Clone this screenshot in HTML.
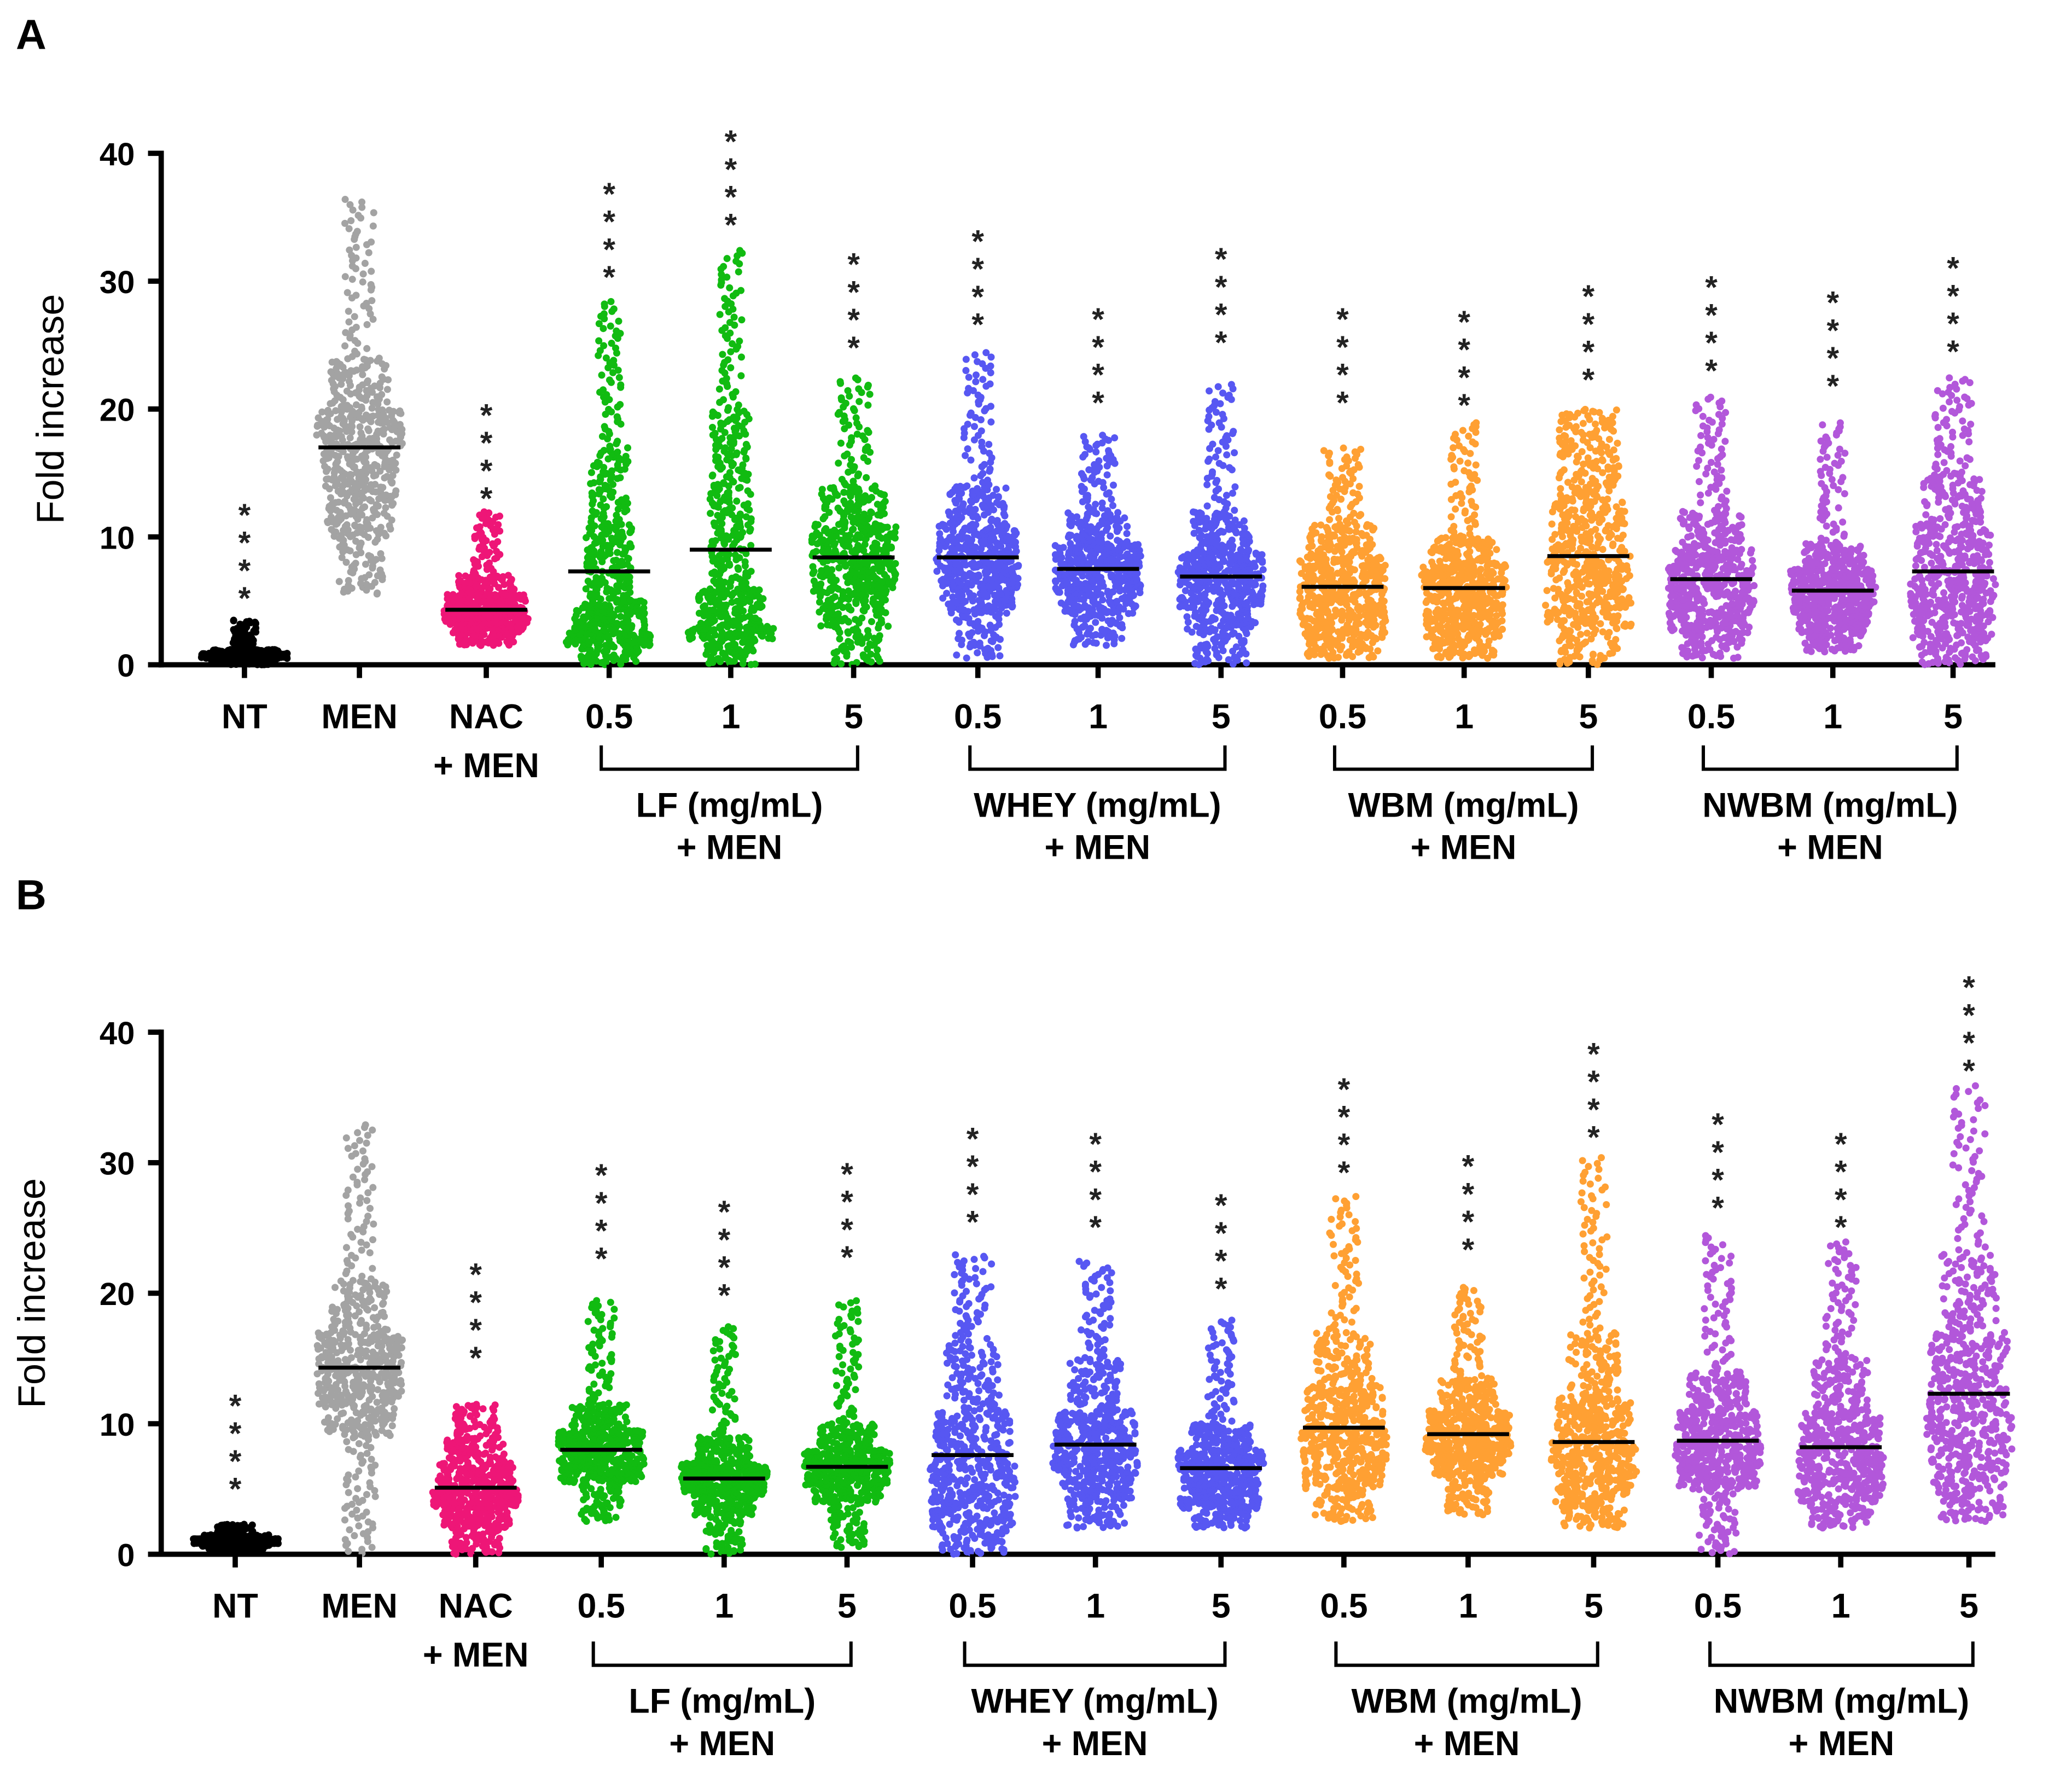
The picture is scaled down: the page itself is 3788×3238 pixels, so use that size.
<!DOCTYPE html>
<html><head><meta charset="utf-8"><style>
html,body{margin:0;padding:0;background:#fff}
svg{display:block}
text{font-family:"Liberation Sans",Arial,sans-serif}
</style></head><body>
<svg id="chart" width="3788" height="3238" viewBox="0 0 1568 1340" preserveAspectRatio="none" xmlns="http://www.w3.org/2000/svg">
<rect width="1568" height="1340" fill="#fff"/>
<g id="panelA"></g>
<g id="panelB"></g>
</svg>
<script>
const groupColors = ["#000000","#a3a3a3","#ee1677","#11bb11","#11bb11","#11bb11","#5757f2","#5757f2","#5757f2","#ffa033","#ffa033","#ffa033","#b257da","#b257da","#b257da"];
const tickLabels = ["0","10","20","30","40"];
const tickValues = [0,10,20,30,40];
const xLabels = ["NT","MEN","NAC","0.5","1","5","0.5","1","5","0.5","1","5","0.5","1","5"];
const bracketNames = ["LF (mg/mL)","WHEY (mg/mL)","WBM (mg/mL)","NWBM (mg/mL)"];
// quantiles: min, q10, q25, q50, q75, q90, max
const quantA = [
 [0,0.3,0.5,0.7,0.9,1.2,3.5],
 [5.5,10,13,17,20,24,36.5],
 [1.5,2.5,3.3,4.3,5.5,7,12],
 [0,1.5,2.5,5,11,17,28.5],
 [0,2,3,6,14,20,32.5],
 [0,3,5.5,8.3,11,14,22.5],
 [0.5,4,6,8.3,11,14,24.5],
 [1.5,4,5.5,7.5,9.5,12,18],
 [0,2.5,4.5,6.8,9,12,22],
 [0.5,2,3.5,6,8.5,11,17],
 [0.5,2,3.5,6,8,10,19],
 [0,3,5,8.5,13,17,20],
 [0.5,2.5,4,6.5,9,12,21],
 [1,2.5,4,5.8,7.5,9.5,19],
 [0,2,4,7,11,15,22.5]];
const meanA = [0.7,17,4.3,7.3,9,8.4,8.4,7.5,6.9,6.1,6,8.5,6.7,5.8,7.3];
const starsA = [12.4,null,20.2,37.5,41.6,32,33.8,27.7,32.4,27.7,27.5,29.5,30.2,29,31.7];
const quantB = [
 [0.3,0.6,0.8,1,1.2,1.5,2.3],
 [0,9,11.5,14.3,17,21,33],
 [0,2,3.5,5,7,9,11.5],
 [2.5,5.5,6.5,8,9.5,11.5,19.5],
 [0,3,4.5,5.8,7,9,17.5],
 [0.5,4,5.3,6.7,8,10,19.5],
 [0,2,4,7,11,16,23],
 [2,4,6,8.3,11,15,22.5],
 [2,3.5,4.5,6.5,8,10,18],
 [2.5,5,7,9.7,13,17,27.5],
 [3,6,7.5,9.2,11,13.5,20.5],
 [2,4,6,8.6,12,17,30.5],
 [0,5,6.5,8.6,11,14,24.5],
 [2,4,5.5,8,11,15,24],
 [2.5,5,8,12,17,23,36]];
const meanB = [1,14.3,5.1,8,5.8,6.7,7.6,8.4,6.6,9.7,9.2,8.6,8.7,8.2,12.3];
const starsB = [12.05,null,22.1,29.7,26.9,29.8,32.5,32.1,27.4,36.3,30.4,39.0,33.6,32.1,44.1];
const centersA = [185,272,368,461,553,646,740,831,924,1016,1108,1202,1295,1387,1478];
const centersB = [178,272,360,455,548,641,736,829,924,1017,1111,1206,1300,1393,1490];

const NS="http://www.w3.org/2000/svg";
function mk(parent,tag,attrs){const e=document.createElementNS(NS,tag);for(const k in attrs)e.setAttribute(k,attrs[k]);parent.appendChild(e);return e;}
const probs=[0,0.1,0.25,0.5,0.75,0.9,1];
function jit(i,g){const s=Math.sin(i*78.233+g*12.9898+1.7)*43758.5453;return (s-Math.floor(s))*2-1;}

function drawPanel(g,cfg){
  const y0=cfg.y0, per=cfg.per;
  const yS=v=>y0-v*per;
  let ax=mk(g,'line',{x1:122,y1:yS(40)-2,x2:122,y2:y0+2,stroke:'#000','stroke-width':4});
  
  
  let xa=mk(g,'line',{x1:120,y1:y0,x2:1510,y2:y0,stroke:'#000','stroke-width':4});
  
  
  tickValues.forEach((v,i)=>{
    mk(g,'line',{x1:112,y1:yS(v),x2:122,y2:yS(v),stroke:'#000','stroke-width':4});
    const t=mk(g,'text',{x:102,y:yS(v)+9,'text-anchor':'end','font-size':24,'font-weight':'bold'});
    t.textContent=tickLabels[i];
    
    
  });
  const yt=mk(g,'text',{x:0,y:0,'font-size':29,'text-anchor':'middle',transform:`translate(${cfg.ytx},${yS(20)}) rotate(-90)`});
  yt.textContent='Fold increase';
  
  
  const pl=mk(g,'text',{x:12,y:cfg.letterY,'font-size':32,'font-weight':'bold','font-family':'Liberation Serif, serif'});
  pl.textContent=cfg.letter;
  
  
  cfg.centers.forEach((cx,gi)=>{
    const q=cfg.quant[gi];
    const gg=mk(g,'g',{fill:groupColors[gi]});
    
    
    const n=600;
    const dens=[];for(let s=0;s<6;s++){dens.push((probs[s+1]-probs[s])/Math.max(q[s+1]-q[s],0.3));}
    const md=Math.max(...dens);
    for(let i=0;i<n;i++){
      const p=(i+0.5)/n;
      let s=0;while(s<5&&p>probs[s+1])s++;
      const f=(p-probs[s])/(probs[s+1]-probs[s]);
      const v=q[s]+f*(q[s+1]-q[s]);
      const hw=31*Math.sqrt(dens[s]/md)+1.5;
      const c=mk(gg,'circle',{cx:cx+jit(i,gi+cfg.seed)*hw,cy:yS(v),r:2.7});
      
      
    }
    const ml=mk(g,'line',{x1:cx-31,x2:cx+31,y1:yS(cfg.mean[gi]),y2:yS(cfg.mean[gi]),stroke:'#000','stroke-width':3});
    
    
    mk(g,'line',{x1:cx,x2:cx,y1:y0,y2:y0+10,stroke:'#000','stroke-width':4});
    const xl=mk(g,'text',{x:cx,y:y0+48,'text-anchor':'middle','font-size':26,'font-weight':'bold'});
    xl.textContent=xLabels[gi];
    
    
    if(cfg.stars[gi]!=null){
      const sg=mk(g,'g',{});
      
      
      for(let k=0;k<4;k++){
        const st=mk(sg,'text',{x:cx,y:yS(cfg.stars[gi])+15+k*21,'text-anchor':'middle','font-size':24,'font-weight':'bold',fill:'#222'});
        st.textContent='*';
      }
    }
  });
  const plus=mk(g,'text',{x:cfg.centers[2],y:y0+85,'text-anchor':'middle','font-size':26,'font-weight':'bold'});
  plus.textContent='+ MEN';
  
  
  for(let b=0;b<4;b++){
    const a=cfg.centers[3+b*3]-6, c=cfg.centers[5+b*3]+3;
    const by=y0+cfg.bOff;
    const br=mk(g,'path',{d:`M${a},${by-18} V${by} H${c} V${by-18}`,fill:'none',stroke:'#000','stroke-width':2.5});
    
    
    const mid=(a+c)/2;
    const t1=mk(g,'text',{x:mid,y:by+36,'text-anchor':'middle','font-size':26,'font-weight':'bold'});
    t1.textContent=bracketNames[b];
    
    
    const t2=mk(g,'text',{x:mid,y:by+68,'text-anchor':'middle','font-size':26,'font-weight':'bold'});
    t2.textContent='+ MEN';
    
    
  }
}
drawPanel(document.getElementById('panelA'),{y0:503,per:9.675,centers:centersA,quant:quantA,mean:meanA,stars:starsA,letter:'A',letterY:37,ytx:48,bOff:79,seed:0});
drawPanel(document.getElementById('panelB'),{y0:1176,per:9.875,centers:centersB,quant:quantB,mean:meanB,stars:starsB,letter:'B',letterY:688,ytx:34,bOff:84,seed:20});
</script>
</body></html>
